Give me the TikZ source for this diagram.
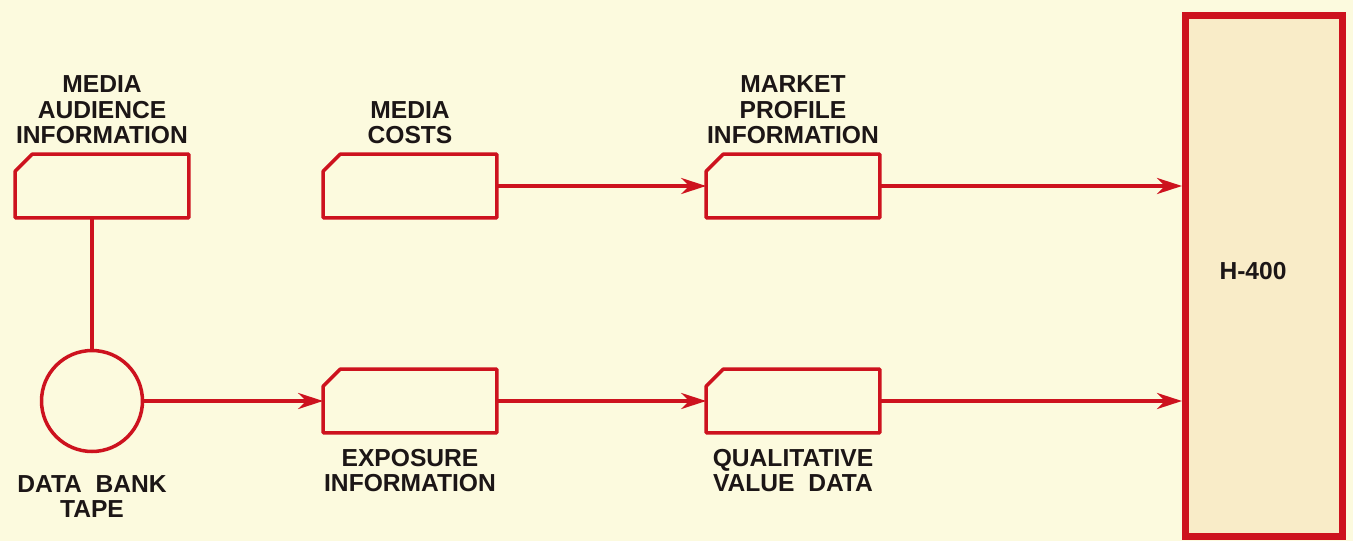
\documentclass[tikz,border=0pt]{standalone}
\usepackage{fontspec}
\setmainfont{Liberation Sans}
\usetikzlibrary{positioning,arrows.meta}
\definecolor{paper}{RGB}{252,250,222}
\definecolor{tank}{RGB}{249,236,200}
\definecolor{ink}{RGB}{205,18,30}
\definecolor{letter}{RGB}{28,22,22}
\tikzset{% styles for the flow chart
  card/.style={rectangle, minimum width=3.46cm, minimum height=1.26cm, inner sep=0pt},
  cardline/.style={draw=ink, line width=2pt, line join=round},
  tape/.style={circle, draw=ink, line width=2pt, minimum size=2.02cm, inner sep=0pt},
  cpu/.style={rectangle, draw=ink, fill=tank, line width=4pt,
    minimum width=3.14cm, minimum height=10.42cm, inner sep=0pt},
  caption/.style={align=center, inner sep=0pt,
    font=\bfseries\fontsize{14}{14.5}\selectfont, text=letter},
  link/.style={draw=ink, line width=2.2pt},
  feed/.style={link, -{Stealth[length=0.5cm,width=0.32cm,inset=0.16cm]}}
}
% punched card outline with the top left corner cut off
\newcommand{\cardoutline}[1]{%
  \draw[cardline] (#1.south west) -- ([yshift=-0.34cm]#1.north west)
    -- ([xshift=0.34cm]#1.north west) -- (#1.north east) -- (#1.south east) -- cycle;}

\begin{document}
\begin{tikzpicture}[x=0.02cm,y=-0.02cm]
% page, in pixels from the top left corner
\path[use as bounding box, fill=paper] (0,0) rectangle (1353,541);

% the cards, the tape and the computer
\node[card] (audience) at (102,186) {};
\node[card] (costs) at (410,186) {};
\node[card] (profile) at (793,186) {};
\node[card] (exposure) at (410,401) {};
\node[card] (quality) at (793,401) {};
\foreach \c in {audience,costs,profile,exposure,quality} {\cardoutline{\c}}
\node[tape] (tape) at (92,401) {};
\node[cpu, label={[caption, xshift=-0.22cm, yshift=0.1cm]center:H-400}] (h400) at (1264,276) {};

% captions
\node[caption, above=0.2cm of audience] (audience text) {MEDIA\\AUDIENCE\\INFORMATION};
\node[caption, above=0.2cm of costs] (costs text) {MEDIA\\COSTS};
\node[caption, above=0.2cm of profile] (profile text) {MARKET\\PROFILE\\INFORMATION};
\node[caption, below=0.32cm of exposure] (exposure text) {EXPOSURE\\INFORMATION};
\node[caption, below=0.32cm of quality] (quality text) {QUALITATIVE\\VALUE\ \ DATA};
\node[caption, below=0.44cm of tape] (tape text) {DATA\ \ BANK\\TAPE};

% flow lines
\draw[link] (tape.north |- audience.south) -- (tape.north);
\draw[feed] (costs.east) -- (profile.west);
\draw[feed] (profile.east) -- (profile.east -| h400.west);
\draw[feed] (tape.east) -- (exposure.west);
\draw[feed] (exposure.east) -- (quality.west);
\draw[feed] (quality.east) -- (quality.east -| h400.west);
\end{tikzpicture}
\end{document}
